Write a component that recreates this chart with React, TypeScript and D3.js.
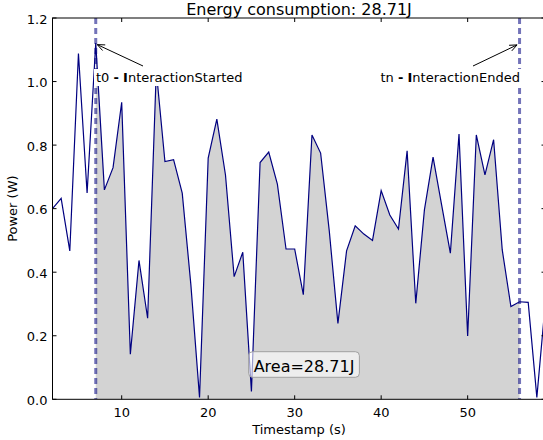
import React, { useRef, useEffect } from 'react';
import * as d3 from 'd3';

const times = [2, 3, 4, 5, 6, 7, 8, 9, 10, 11, 12, 13, 14, 15, 16, 17, 18, 19, 20, 21,
    22, 23, 24, 25, 26, 27, 28, 29, 30, 31, 32, 33, 34, 35, 36, 37, 38, 39, 40, 41,
    42, 43, 44, 45, 46, 47, 48, 49, 50, 51, 52, 53, 54, 55, 56, 57, 58, 59];
const power = [0.60, 0.632, 0.467, 1.088, 0.649, 1.121, 0.659, 0.729, 0.935, 0.142,
    0.437, 0.255, 1.034, 0.748, 0.754, 0.649, 0.36, 0.006, 0.759, 0.882,
    0.706, 0.386, 0.463, 0.025, 0.745, 0.778, 0.677, 0.473, 0.473, 0.329,
    0.832, 0.775, 0.53, 0.239, 0.467, 0.546, 0.52, 0.50, 0.657, 0.58,
    0.536, 0.782, 0.302, 0.596, 0.762, 0.61, 0.46, 0.835, 0.199, 0.832,
    0.706, 0.817, 0.47, 0.292, 0.307, 0.305, 0.006, 0.31];
const xTicks = [10, 20, 30, 40, 50];
const yTicks = [0, 0.2, 0.4, 0.6, 0.8, 1.0, 1.2];
const tStart = 7;
const tEnd = 56;
const energy = '28.71J';

const FONT = 'DejaVu Sans, sans-serif';

function drawChart(node: SVGSVGElement) {
    const svg = d3.select(node);
    svg.selectAll('*').remove();

    const left = 52.5, right = 545.5, top = 18, bottom = 399.3;

    const x = d3.scaleLinear().domain([2, 59]).range([left, right]);
    const y = d3.scaleLinear().domain([0, 1.2]).range([bottom, top]);

    const pts = times.map((t, i) => ({ t, v: power[i] }));

    svg.append('defs').append('clipPath')
        .attr('id', 'plot-clip')
        .append('rect')
        .attr('x', left).attr('y', top)
        .attr('width', right - left).attr('height', bottom - top);

    const plot = svg.append('g').attr('clip-path', 'url(#plot-clip)');

    // shaded interaction window
    const area = d3.area<{ t: number, v: number }>()
        .x(d => x(d.t))
        .y0(y(0))
        .y1(d => y(d.v));
    plot.append('path')
        .datum(pts.filter(d => d.t >= tStart && d.t <= tEnd))
        .attr('d', area)
        .attr('fill', '#d3d3d3');

    const line = d3.line<{ t: number, v: number }>()
        .x(d => x(d.t))
        .y(d => y(d.v));
    plot.append('path')
        .datum(pts)
        .attr('d', line)
        .attr('fill', 'none')
        .attr('stroke', '#000080')
        .attr('stroke-width', 1.2);

    [tStart, tEnd].forEach(t => {
        plot.append('line')
            .attr('x1', x(t)).attr('x2', x(t))
            .attr('y1', top).attr('y2', bottom)
            .attr('stroke', '#000080')
            .attr('stroke-opacity', 0.55)
            .attr('stroke-width', 3)
            .attr('stroke-dasharray', '6,4');
    });

    // annotations
    const annots = [
        { t: tStart, v: power[times.indexOf(tStart)], label: ['t0 ', '-', ' ', 'I', 'nteractionStarted'], tx: 96, anchor: 'start', ax: 143, ay: 66 },
        { t: tEnd, v: 1.12, label: ['tn ', '-', ' ', 'I', 'nteractionEnded'], tx: 520, anchor: 'end', ax: 473, ay: 66 }
    ];
    annots.forEach(a => {
        const txt = svg.append('text')
            .attr('x', a.tx).attr('y', 82)
            .attr('text-anchor', a.anchor)
            .style('font-family', FONT)
            .style('font-size', '13px');
        a.label.forEach((s, i) => {
            txt.append('tspan').attr('font-weight', i === 1 || i === 3 ? 'bold' : 'normal').text(s);
        });
        const bb = (txt.node() as SVGTextElement).getBBox();
        svg.insert('rect', () => txt.node())
            .attr('x', bb.x - 2).attr('y', bb.y - 1)
            .attr('width', bb.width + 4).attr('height', bb.height + 2)
            .attr('fill', 'white');

        const px = x(a.t) + (a.anchor === 'start' ? 1.5 : -2.5);
        const py = y(a.v) + 1.5;
        svg.append('line')
            .attr('x1', a.ax).attr('y1', a.ay)
            .attr('x2', px).attr('y2', py)
            .attr('stroke', 'black').attr('stroke-width', 1);
        const ang = Math.atan2(a.ay - py, a.ax - px);
        const hl = 8, hw = 0.4;
        svg.append('path')
            .attr('d', `M${px + hl * Math.cos(ang + hw)},${py + hl * Math.sin(ang + hw)}L${px},${py}L${px + hl * Math.cos(ang - hw)},${py + hl * Math.sin(ang - hw)}`)
            .attr('fill', 'none').attr('stroke', 'black').attr('stroke-width', 1);
    });

    // area label box
    const areaText = svg.append('text')
        .attr('x', 304).attr('y', 371.7)
        .attr('text-anchor', 'middle')
        .style('font-family', FONT)
        .style('font-size', '16px')
        .text('Area=' + energy);
    const ab = (areaText.node() as SVGTextElement).getBBox();
    svg.insert('rect', () => areaText.node())
        .attr('x', ab.x - 5).attr('y', 351.7)
        .attr('width', ab.width + 10).attr('height', 25.6)
        .attr('rx', 4)
        .attr('fill', 'white').attr('fill-opacity', 0.6)
        .attr('stroke', '#a0a0a0').attr('stroke-width', 1);

    // frame
    svg.append('rect')
        .attr('x', left).attr('y', top)
        .attr('width', right - left).attr('height', bottom - top)
        .attr('fill', 'none').attr('stroke', 'black').attr('stroke-width', 1);

    const tl = 4;
    xTicks.forEach(t => {
        svg.append('line').attr('x1', x(t)).attr('x2', x(t)).attr('y1', bottom).attr('y2', bottom - tl).attr('stroke', 'black');
        svg.append('line').attr('x1', x(t)).attr('x2', x(t)).attr('y1', top).attr('y2', top + tl).attr('stroke', 'black');
        svg.append('text')
            .attr('x', x(t)).attr('y', 417)
            .attr('text-anchor', 'middle')
            .style('font-family', FONT).style('font-size', '13px')
            .text(t);
    });
    yTicks.forEach(v => {
        svg.append('line').attr('x1', left).attr('x2', left + tl).attr('y1', y(v)).attr('y2', y(v)).attr('stroke', 'black');
        svg.append('line').attr('x1', right).attr('x2', right - tl).attr('y1', y(v)).attr('y2', y(v)).attr('stroke', 'black');
        svg.append('text')
            .attr('x', left - 5).attr('y', y(v) + 5.5)
            .attr('text-anchor', 'end')
            .style('font-family', FONT).style('font-size', '13px')
            .text(v.toFixed(1));
    });

    svg.append('text')
        .attr('x', (left + right) / 2).attr('y', 434)
        .attr('text-anchor', 'middle')
        .style('font-family', FONT).style('font-size', '13px')
        .text('Timestamp (s)');

    svg.append('text')
        .attr('transform', `translate(17,${(top + bottom) / 2}) rotate(-90)`)
        .attr('text-anchor', 'middle')
        .style('font-family', FONT).style('font-size', '13px')
        .text('Power (W)');

    svg.append('text')
        .attr('x', (left + right) / 2).attr('y', 15)
        .attr('text-anchor', 'middle')
        .style('font-family', FONT).style('font-size', '16px')
        .text('Energy consumption: ' + energy);
}

const App = () => {
    const svgRef = useRef<SVGSVGElement>(null);

    useEffect(() => {
        if (svgRef.current) {
            drawChart(svgRef.current);
        }
    }, []);

    return (
        <svg ref={svgRef} width={543} height={440}
            style={{ position: 'absolute', left: 0, top: 0, background: 'white' }} />
    );
};

export default App;
